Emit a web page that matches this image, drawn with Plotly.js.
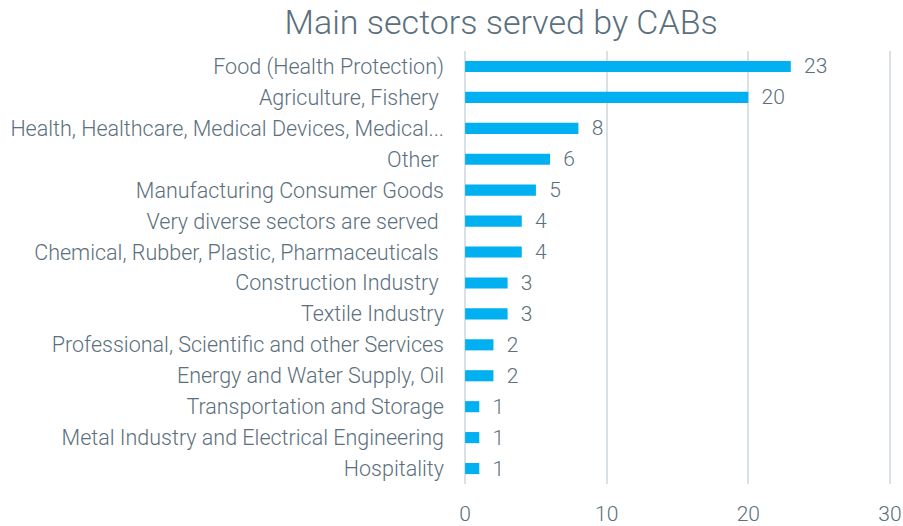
<!DOCTYPE html>
<html><head><meta charset="utf-8">
<script src="https://cdn.plot.ly/plotly-3.0.1.min.js"></script>
<style>html,body{margin:0;padding:0;background:#fff;}</style>
</head><body><div id="chart" style="width:903px;height:526px;"></div>
<script>
const categories = [
  "Food (Health Protection)",
  "Agriculture, Fishery\u00A0",
  "Health, Healthcare, Medical Devices, Medical...",
  "Other\u00A0",
  "Manufacturing Consumer Goods",
  "Very diverse sectors are served\u00A0",
  "Chemical, Rubber, Plastic, Pharmaceuticals\u00A0",
  "Construction Industry\u00A0",
  "Textile Industry",
  "Professional, Scientific and other Services",
  "Energy and Water Supply, Oil",
  "Transportation and Storage",
  "Metal Industry and Electrical Engineering",
  "Hospitality"
];
const values = [23, 20, 8, 6, 5, 4, 4, 3, 3, 2, 2, 1, 1, 1];
const xTicks = [0, 10, 20, 30];

const textColor = "#5b6f7d";
const fontFam = "Roboto, 'Open Sans', sans-serif";

Plotly.newPlot("chart", [{
  type: "bar",
  orientation: "h",
  y: categories,
  x: values,
  marker: {color: "#00b0f0"},
  width: 0.36,
  text: values.map(v => "\u00A0\u00A0" + v),
  textposition: "outside",
  constraintext: "none",
  cliponaxis: false,
  textfont: {family: fontFam, size: 21, color: textColor, weight: 300},
  hoverinfo: "none"
}], {
  width: 903, height: 526,
  margin: {l: 463, r: 11, t: 51, b: 42},
  paper_bgcolor: "#fff", plot_bgcolor: "#fff",
  title: {text: "Main sectors served by CABs", x: 0.555, xanchor: "center", y: 0.958, yanchor: "middle",
          font: {family: fontFam, size: 34, color: textColor, weight: 300}},
  font: {family: fontFam, color: textColor, weight: 300},
  showlegend: false,
  xaxis: {range: [-0.15, 30.15], tickvals: xTicks, showgrid: true, gridcolor: "#d9e1e6", gridwidth: 2,
          zeroline: false, showline: false, ticks: "", ticklabelstandoff: 15,
          tickfont: {family: fontFam, size: 21, color: textColor, weight: 300}, fixedrange: true},
  yaxis: {autorange: "reversed", type: "category", showgrid: false, zeroline: false,
          showline: false, ticks: "", ticklabelstandoff: 18,
          tickfont: {family: fontFam, size: 21.5, color: textColor, weight: 300}, fixedrange: true}
}, {displayModeBar: false, staticPlot: true});
</script></body></html>
